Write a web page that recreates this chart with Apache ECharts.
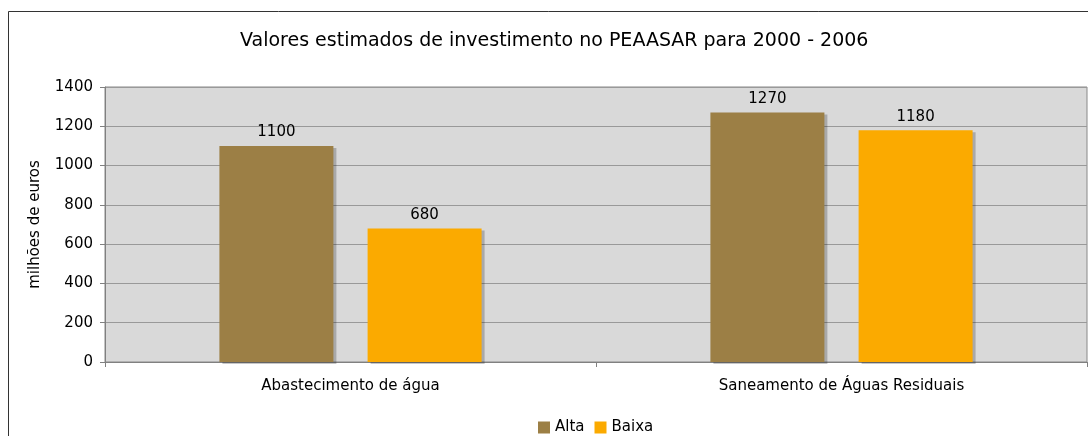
<!DOCTYPE html>
<html>
<head>
<meta charset="utf-8">
<script src="https://cdn.jsdelivr.net/npm/echarts@6/dist/echarts.min.js"></script>
<style>
  html, body { margin: 0; padding: 0; background: #fff; }
  #main { width: 1088px; height: 436px; }
</style>
</head>
<body>
<div id="main"></div>
<script>
// dados do gráfico
var categorias = ['Abastecimento de água', 'Saneamento de Águas Residuais']
var alta = [1100, 1270]
var baixa = [680, 1180]
var yTicks = [0, 200, 400, 600, 800, 1000, 1200, 1400]

var chart = echarts.init(document.getElementById('main'))
var fonte = 'DejaVu Sans, Verdana, sans-serif'

var option = {
  animation: false,
  textStyle: { fontFamily: fonte },
  title: {
    text: 'Valores estimados de investimento no PEAASAR para 2000 - 2006',
    left: 235,
    top: 27,
    textStyle: { fontSize: 19, fontWeight: 'normal', color: '#000', fontFamily: fonte }
  },
  graphic: [{
    type: 'rect',
    shape: { x: 8.5, y: 11.5, width: 1200, height: 600 },
    style: { fill: 'none', stroke: '#333', lineWidth: 1 },
    z: -10
  }],
  legend: {
    top: 415,
    left: 533,
    itemWidth: 12,
    itemHeight: 12,
    itemGap: 10,
    icon: 'rect',
    textStyle: { fontSize: 15, color: '#000', fontFamily: fonte }
  },
  grid: {
    left: 105,
    right: 1,
    top: 87,
    bottom: 74,
    show: true,
    backgroundColor: '#d9d9d9',
    borderColor: '#888',
    borderWidth: 1
  },
  xAxis: {
    type: 'category',
    data: categorias,
    axisLine: { lineStyle: { color: '#808080' } },
    axisTick: { show: true, length: 5, lineStyle: { color: '#808080' } },
    axisLabel: { fontSize: 15, color: '#000', margin: 17 }
  },
  yAxis: {
    type: 'value',
    min: yTicks[0],
    max: yTicks[yTicks.length - 1],
    interval: 200,
    name: 'milhões de euros',
    nameLocation: 'middle',
    nameGap: 62,
    nameTextStyle: { fontSize: 15, color: '#000' },
    axisLine: { show: true, lineStyle: { color: '#808080' } },
    axisTick: { show: true, length: 5, lineStyle: { color: '#808080' } },
    axisLabel: { fontSize: 15, color: '#000', margin: 12, formatter: function (v) { return String(v) } },
    splitLine: { lineStyle: { color: '#999', width: 1 } }
  },
  series: [
    {
      name: 'Alta',
      type: 'bar',
      data: alta,
      barWidth: 114,
      barGap: '30%',
      itemStyle: {
        color: '#9c7f45',
        shadowColor: 'rgba(0,0,0,0.22)',
        shadowOffsetX: 3,
        shadowOffsetY: 2,
        shadowBlur: 0
      },
      label: { show: true, position: 'top', fontSize: 15, color: '#000', distance: 6 }
    },
    {
      name: 'Baixa',
      type: 'bar',
      data: baixa,
      barWidth: 114,
      itemStyle: {
        color: '#fbaa00',
        shadowColor: 'rgba(0,0,0,0.22)',
        shadowOffsetX: 3,
        shadowOffsetY: 2,
        shadowBlur: 0
      },
      label: { show: true, position: 'top', fontSize: 15, color: '#000', distance: 6 }
    }
  ]
}

option && chart.setOption(option)
</script>
</body>
</html>
